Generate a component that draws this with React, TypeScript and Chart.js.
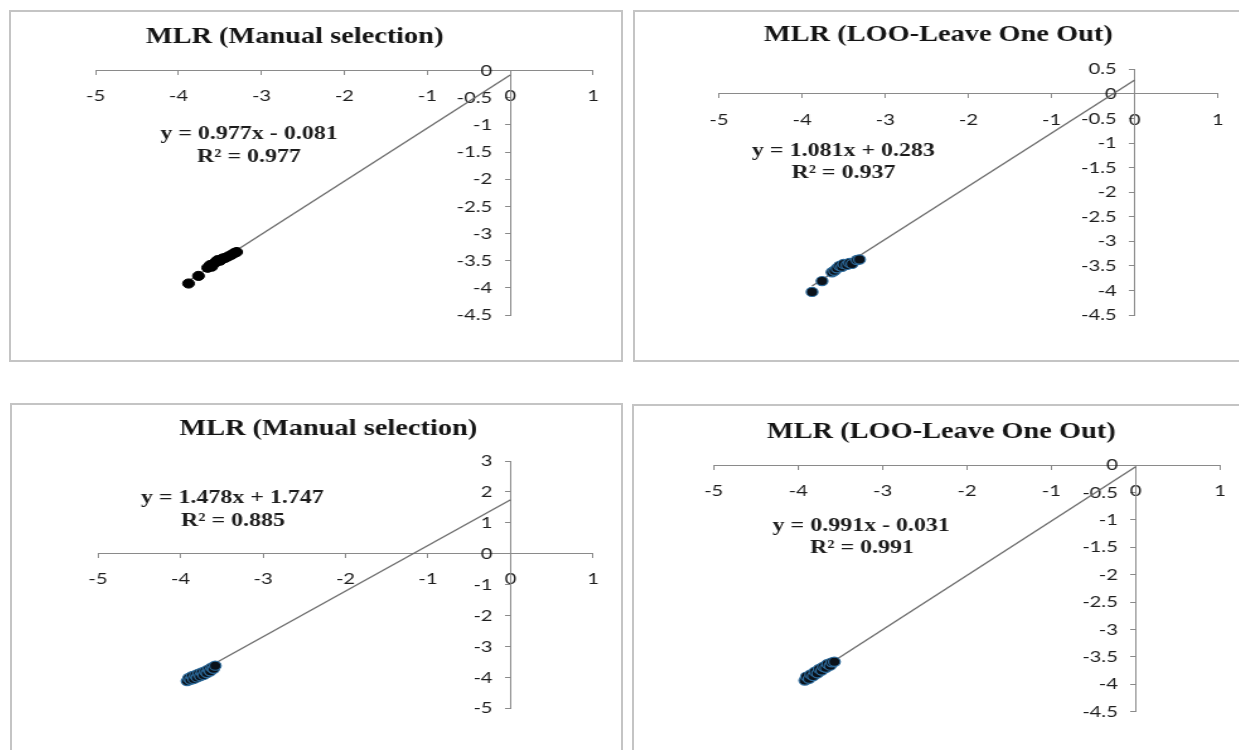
import React, { useEffect, useRef } from 'react';
import { Chart, registerables } from 'chart.js';

Chart.register(...registerables);

// ---------------- Data ----------------
const titles = [
  'MLR (Manual selection)',
  'MLR (LOO-Leave One Out)',
  'MLR (Manual selection)',
  'MLR (LOO-Leave One Out)',
];

// Panel 1: MLR (Manual selection), top
const p1X = [-3.88, -3.76, -3.65, -3.62, -3.6, -3.57, -3.55, -3.53, -3.5, -3.47, -3.44, -3.4, -3.36, -3.33, -3.3];
const p1Y = [-3.92, -3.78, -3.63, -3.58, -3.61, -3.55, -3.52, -3.49, -3.5, -3.46, -3.45, -3.42, -3.39, -3.36, -3.34];

// Panel 2: MLR (LOO), top
const p2X = [-3.88, -3.76, -3.64, -3.61, -3.58, -3.55, -3.52, -3.5, -3.46, -3.43, -3.4, -3.34, -3.31];
const p2Y = [-4.03, -3.81, -3.63, -3.6, -3.55, -3.5, -3.52, -3.46, -3.48, -3.44, -3.46, -3.38, -3.37];

// Panel 3: MLR (Manual selection), bottom
const p3X = [-3.92, -3.9, -3.88, -3.86, -3.84, -3.82, -3.8, -3.78, -3.76, -3.74, -3.72, -3.7, -3.68, -3.66, -3.64, -3.62, -3.6, -3.58];
const p3Y = [-4.12, -4.02, -4.08, -3.96, -4.05, -3.93, -4.0, -3.88, -3.96, -3.84, -3.92, -3.8, -3.86, -3.74, -3.8, -3.68, -3.72, -3.62];

// Panel 4: MLR (LOO), bottom
const p4X = [-3.92, -3.9, -3.87, -3.85, -3.82, -3.8, -3.77, -3.75, -3.72, -3.7, -3.67, -3.65, -3.62, -3.6, -3.57];
const p4Y = [-3.93, -3.86, -3.9, -3.82, -3.85, -3.77, -3.8, -3.72, -3.75, -3.68, -3.7, -3.63, -3.66, -3.6, -3.59];

const slopes = [0.977, 1.081, 1.478, 0.991];
const intercepts = [-0.081, 0.283, 1.747, -0.031];
const equations = ['y = 0.977x - 0.081', 'y = 1.081x + 0.283', 'y = 1.478x + 1.747', 'y = 0.991x - 0.031'];
const r2Labels = ['R² = 0.977', 'R² = 0.937', 'R² = 0.885', 'R² = 0.991'];

const xMin = -5;
const xMax = 1;
const xStep = 1;
const yMins = [-4.5, -4.5, -5, -4.5];
const yMaxs = [0, 0.5, 3, 0];
const ySteps = [0.5, 0.5, 1, 0.5];

const xsAll = [p1X, p2X, p3X, p4X];
const ysAll = [p1Y, p2Y, p3Y, p4Y];

// ---------------- Layout (page pixels) ----------------
const K = 1.26; // horizontal stretch of the original figure
const Y_LABEL_GAP = 18; // page px between y labels' right edge and the y axis

const layouts = [
  { L: 9, T: 10, W: 614, H: 352, ax0: 95.7, ax1: 593.1, ayTop: 70.7, ayBot: 315, title: [294.6, 36.7], eq: [249, 134.5], r2: [249, 157], blue: false },
  { L: 633, T: 10, W: 610, H: 352, ax0: 718.9, ax1: 1217.9, ayTop: 69.3, ayBot: 315, title: [938.3, 35.5], eq: [843.4, 151], r2: [843.4, 173.5], blue: true },
  { L: 10, T: 403, W: 613, H: 360, ax0: 98, ax1: 593.1, ayTop: 461, ayBot: 708.3, title: [328.2, 429.3], eq: [232.3, 498], r2: [233, 521], blue: true },
  { L: 632, T: 404, W: 611, H: 360, ax0: 713.7, ax1: 1223.8, ayTop: 465, ayBot: 711.7, title: [941.3, 431.7], eq: [861.2, 526], r2: [862, 548.5], blue: true },
];

const fmt = (v: any) => String(Math.round(Number(v) * 100) / 100);

const textPlugin = {
  id: 'panelText',
  afterDraw(chart: any, _args: any, opts: any) {
    const ctx = chart.ctx;
    ctx.save();
    ctx.textAlign = 'center';
    ctx.textBaseline = 'middle';
    ctx.fillStyle = '#141414';
    ctx.font = 'bold 22.5px "Liberation Serif"';
    ctx.fillText(opts.title, opts.tx, opts.ty);
    ctx.fillStyle = '#1c1c1c';
    ctx.font = 'bold 19px "Liberation Serif"';
    ctx.fillText(opts.eq, opts.ex, opts.ey);
    ctx.fillText(opts.r2, opts.rx, opts.ry);
    ctx.restore();
  },
};

function Panel({ idx }: { idx: number }) {
  const ref = useRef<HTMLCanvasElement | null>(null);
  const lay = layouts[idx];
  const cssW = lay.W - 4;
  const cssH = lay.H - 4;
  const attrW = Math.round(cssW / K);
  const k = cssW / attrW;
  const ox = lay.L + 2;
  const oy = lay.T + 2;

  useEffect(() => {
    if (!ref.current) return;
    const xs = xsAll[idx];
    const ys = ysAll[idx];
    const pts = xs.map((x, i) => ({ x, y: ys[i] }));
    const xStart = Math.min(...xs);
    const trend = [
      { x: xStart, y: slopes[idx] * xStart + intercepts[idx] },
      { x: 0, y: intercepts[idx] },
    ];
    const axisColor = '#8a8a8a';
    const tickFont = { family: 'Lato', size: 16 };
    const tickColor = '#1e1e1e';
    const pxPerUnit = (lay.ax1 - lay.ax0) / (xMax - xMin);
    const labelAxisX = -Y_LABEL_GAP / pxPerUnit;
    const chart = new Chart(ref.current, {
      type: 'scatter',
      data: {
        datasets: [
          {
            type: 'scatter',
            data: pts,
            pointRadius: 4.6,
            pointBackgroundColor: lay.blue ? '#0b121a' : '#000000',
            pointBorderColor: lay.blue ? '#2d6b9c' : '#000000',
            pointBorderWidth: lay.blue ? 1.2 : 1,
            order: 0,
          } as any,
          {
            type: 'line',
            data: trend,
            borderColor: '#6c6c6c',
            borderWidth: 1.3,
            pointRadius: 0,
            fill: false,
            order: 1,
          } as any,
        ],
      },
      options: {
        responsive: false,
        animation: false,
        events: [],
        layout: {
          padding: {
            left: (lay.ax0 - ox) / k,
            right: (ox + cssW - lay.ax1) / k,
            top: lay.ayTop - oy,
            bottom: oy + cssH - lay.ayBot,
          },
        },
        scales: {
          x: {
            type: 'linear',
            min: xMin,
            max: xMax,
            position: { y: 0 } as any,
            ticks: { stepSize: xStep, font: tickFont, color: tickColor, padding: 12, callback: fmt },
            grid: { drawOnChartArea: false, drawTicks: true, tickLength: 4, color: axisColor },
            border: { color: axisColor, width: 1 },
          },
          y: {
            type: 'linear',
            min: yMins[idx],
            max: yMaxs[idx],
            position: { x: 0 } as any,
            ticks: { stepSize: ySteps[idx], display: false },
            grid: { drawOnChartArea: false, drawTicks: true, tickLength: 4, color: axisColor },
            border: { color: axisColor, width: 1 },
          },
          yLabels: {
            type: 'linear',
            axis: 'y',
            min: yMins[idx],
            max: yMaxs[idx],
            position: { x: labelAxisX } as any,
            ticks: { stepSize: ySteps[idx], font: tickFont, color: tickColor, padding: 0, callback: fmt },
            grid: { display: false, drawOnChartArea: false, drawTicks: false },
            border: { display: false },
          },
        },
        plugins: {
          legend: { display: false },
          tooltip: { enabled: false },
          panelText: {
            title: titles[idx],
            tx: (lay.title[0] - ox) / k,
            ty: lay.title[1] - oy,
            eq: equations[idx],
            ex: (lay.eq[0] - ox) / k,
            ey: lay.eq[1] - oy,
            r2: r2Labels[idx],
            rx: (lay.r2[0] - ox) / k,
            ry: lay.r2[1] - oy,
          },
        } as any,
      },
      plugins: [textPlugin],
    } as any);
    return () => chart.destroy();
  }, [idx]);

  return (
    <div
      style={{
        position: 'absolute',
        left: lay.L,
        top: lay.T,
        width: lay.W,
        height: lay.H,
        border: '2px solid #c4c4c4',
        boxSizing: 'border-box',
        background: '#ffffff',
      }}
    >
      <canvas
        ref={ref}
        width={attrW}
        height={cssH}
        style={{ position: 'absolute', left: 0, top: 0, width: cssW, height: cssH }}
      />
    </div>
  );
}

export default function App() {
  return (
    <div
      style={{
        position: 'absolute',
        left: 0,
        top: 0,
        width: 1239,
        height: 750,
        overflow: 'hidden',
        background: '#ffffff',
      }}
    >
      {[0, 1, 2, 3].map((i) => (
        <Panel key={i} idx={i} />
      ))}
    </div>
  );
}
